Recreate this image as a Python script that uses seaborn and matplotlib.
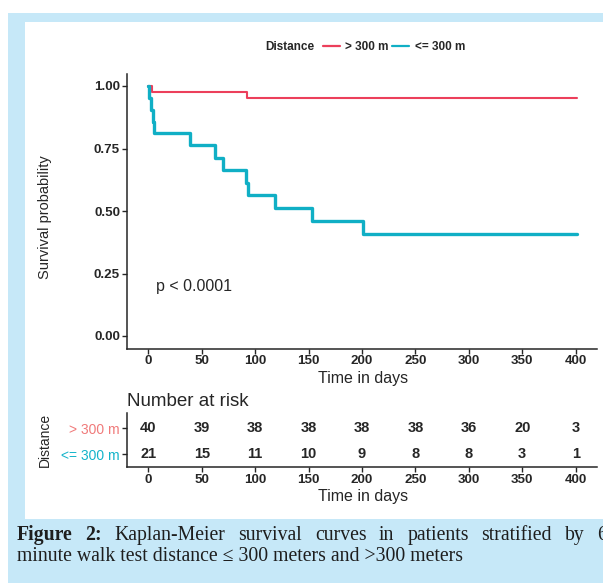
import numpy as np
import pandas as pd
import matplotlib
matplotlib.use('Agg')
import matplotlib.pyplot as plt
import seaborn as sns
from matplotlib.patches import Rectangle
from matplotlib.lines import Line2D

# Kaplan-Meier steps
groups = ['> 300 m', '<= 300 m']
time_gt300 = [0, 3.5, 92, 401]
surv_gt300 = [1.0, 0.976, 0.951, 0.951]
time_le300 = [0, 1, 2, 4, 5, 39, 62, 70, 91, 93, 119, 153, 201, 401]
surv_le300 = [1.0, 0.952, 0.905, 0.857, 0.812, 0.764, 0.714, 0.663, 0.614,
              0.563, 0.513, 0.46, 0.408, 0.408]

# number at risk table
risk_times = [0, 50, 100, 150, 200, 250, 300, 350, 400]
risk_gt300 = [40, 39, 38, 38, 38, 38, 36, 20, 3]
risk_le300 = [21, 15, 11, 10, 9, 8, 8, 3, 1]

y_ticks = [0.0, 0.25, 0.50, 0.75, 1.00]
p_text = 'p < 0.0001'

cap_bold = ['Figure', '2:']
cap_line1 = ['Kaplan-Meier', 'survival', 'curves', 'in', 'patients', 'stratified', 'by', '6']
cap_line2 = 'minute walk test distance \u2264 300 meters and >300 meters'

colors = {'> 300 m': '#ec3f5b', '<= 300 m': '#10afc5'}
label_colors = {'> 300 m': '#f07a7a', '<= 300 m': '#14b4ca'}
widths = {'> 300 m': 1.5, '<= 300 m': 2.4}
bg_blue = '#c6e8f8'
ink = '#262626'

W, H = 603, 587


def fx(px):
    return px / W


def fy(py):
    return 1 - py / H


sns.set_theme(style='ticks')
plt.rcParams['font.family'] = ['Liberation Sans', 'DejaVu Sans']
serif = ['Liberation Serif', 'DejaVu Serif']

df = pd.concat([
    pd.DataFrame({'time': time_gt300, 'surv': surv_gt300, 'Distance': groups[0]}),
    pd.DataFrame({'time': time_le300, 'surv': surv_le300, 'Distance': groups[1]}),
], ignore_index=True)

fig = plt.figure(figsize=(W / 100, H / 100), dpi=100)
fig.patch.set_facecolor('white')
fig.patches.append(Rectangle((fx(8), fy(583)), fx(603) - fx(8), fy(13) - fy(583),
                             transform=fig.transFigure, facecolor=bg_blue,
                             edgecolor='none', zorder=-3))
fig.patches.append(Rectangle((fx(25), fy(519)), fx(603) - fx(25), fy(22) - fy(519),
                             transform=fig.transFigure, facecolor='white',
                             edgecolor='none', zorder=-2))

# survival curves
ax = fig.add_axes([fx(127), fy(348.5), fx(597) - fx(127), fy(73.5) - fy(348.5)])
ax.patch.set_alpha(0)
sns.lineplot(data=df, x='time', y='surv', hue='Distance', size='Distance',
             hue_order=groups, palette=colors, sizes=widths,
             drawstyle='steps-post', estimator=None, sort=True,
             legend=False, ax=ax)
ax.set_xlim(-20, 420)
ax.set_ylim(-0.05, 1.05)
ax.set_xticks(risk_times)
ax.set_yticks(y_ticks)
ax.set_yticklabels([f'{v:.2f}' for v in y_ticks])
ax.set_ylabel('')
ax.set_xlabel('Time in days', fontsize=11.5, color=ink)
ax.xaxis.set_label_coords(0.502, -0.082)
sns.despine(ax=ax)
for s in ['left', 'bottom']:
    ax.spines[s].set_color(ink)
    ax.spines[s].set_linewidth(1.1)
ax.tick_params(length=3.5, width=1, color=ink, pad=1.5, labelsize=9.6, labelcolor=ink)
for lab in ax.get_xticklabels() + ax.get_yticklabels():
    lab.set_fontweight('bold')
ax.text(7.5, 0.2, p_text, ha='left', va='center', fontsize=11.5, color=ink)

fig.text(fx(45), fy(217), 'Survival probability', rotation=90, ha='center',
         va='center', fontsize=10.5, color=ink)

# legend on top
fig.text(fx(265), fy(47), 'Distance', ha='left', va='center', fontsize=8.5,
         fontweight='bold', color=ink)
handles = [Line2D([], [], color=colors[g], lw=1.6) for g in groups]
fig.legend(handles, groups, loc='center left', bbox_to_anchor=(fx(317), fy(47)),
           ncol=2, frameon=False, borderpad=0, handlelength=1.45,
           handletextpad=0.45, columnspacing=0.3,
           prop={'size': 8.5, 'weight': 'bold'}, labelcolor=ink)

# risk table
ax2 = fig.add_axes([fx(127), fy(467), fx(597) - fx(127), fy(413) - fy(467)])
ax2.patch.set_alpha(0)
ax2.set_xlim(-20, 420)
ax2.set_ylim(0.5, 2.58)
ax2.set_xticks(risk_times)
ax2.set_yticks([2, 1])
ax2.set_yticklabels(groups)
for lab, g in zip(ax2.get_yticklabels(), groups):
    lab.set_color(label_colors[g])
for t, n1, n2 in zip(risk_times, risk_gt300, risk_le300):
    ax2.text(t, 2, str(n1), ha='center', va='center', fontsize=10.5,
             fontweight='bold', color=ink)
    ax2.text(t, 1, str(n2), ha='center', va='center', fontsize=10.5,
             fontweight='bold', color=ink)
sns.despine(ax=ax2)
for s in ['left', 'bottom']:
    ax2.spines[s].set_color(ink)
    ax2.spines[s].set_linewidth(1.1)
ax2.tick_params(axis='x', length=3.5, width=1, color=ink, pad=1.5, labelsize=9.6,
                labelcolor=ink)
ax2.tick_params(axis='y', length=3.5, width=1, color=ink, pad=1.5, labelsize=10)
for lab in ax2.get_xticklabels():
    lab.set_fontweight('bold')
ax2.set_xlabel('Time in days', fontsize=11.5, color=ink)
ax2.xaxis.set_label_coords(0.502, -0.41)
ax2.set_title('Number at risk', loc='left', fontsize=13.5, pad=5, color=ink)
fig.text(fx(45), fy(440), 'Distance', rotation=90, ha='center', va='center',
         fontsize=10, color=ink)

# caption, first line justified to the right edge
cap_size = 14.2
renderer = fig.canvas.get_renderer()
tokens = [(w, 'bold') for w in cap_bold] + [(w, 'normal') for w in cap_line1]
texts = [fig.text(0, fy(540), w, fontweight=wt, fontsize=cap_size, family=serif,
                  va='baseline', ha='left', color='#1e1e1e') for w, wt in tokens]
tw = [t.get_window_extent(renderer).width for t in texts]
gap = (597 - 17 - sum(tw[:-1])) / (len(texts) - 1)
x = 17
for t, w in zip(texts, tw):
    t.set_x(fx(x))
    x += w + gap
fig.text(fx(17), fy(561), cap_line2, fontsize=cap_size, family=serif, va='baseline',
         ha='left', color='#1e1e1e')

fig.savefig('out.png', dpi=100)
